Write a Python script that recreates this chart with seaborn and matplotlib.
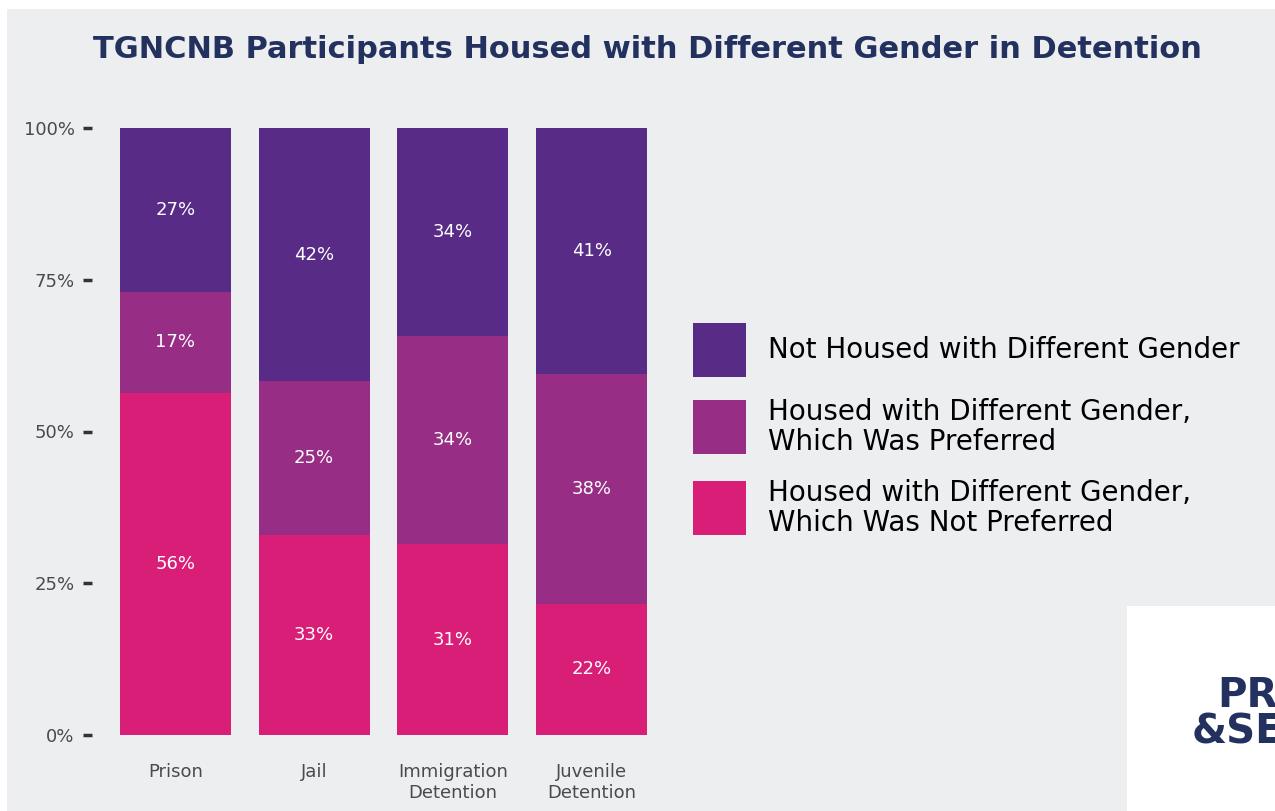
import pandas as pd
import seaborn as sns
import matplotlib.pyplot as plt
from matplotlib.patches import Rectangle

# 資料
facilities = ['Prison', 'Jail', 'Immigration\nDetention', 'Juvenile\nDetention']
not_preferred = [56.4, 32.9, 31.4, 21.6]
preferred = [16.6, 25.4, 34.3, 37.8]
not_housed = [27.0, 41.7, 34.3, 40.6]

series_names = ['Not Housed with Different Gender',
                'Housed with Different Gender,\nWhich Was Preferred',
                'Housed with Different Gender,\nWhich Was Not Preferred']
colors = ['#582C86', '#972D84', '#D91E77']
bg = '#EDEEF0'
W, H = 1275, 811

df = pd.DataFrame({'facility': facilities, 'not_preferred': not_preferred,
                   'preferred': preferred, 'not_housed': not_housed})
df['base2'] = df['not_preferred']
df['base3'] = df['not_preferred'] + df['preferred']

sns.set_theme(style='white')
plt.rcParams['font.family'] = ['DejaVu Sans']

fig = plt.figure(figsize=(W / 100, H / 100), dpi=100)
fig.patch.set_facecolor('white')
# 灰色背景
fig.patches.append(Rectangle((7 / W, 0), 1, 1 - 9 / H, transform=fig.transFigure,
                             facecolor=bg, edgecolor='none', zorder=-10))
ax = fig.add_axes([106 / W, 1 - 735 / H, 555 / W, 607 / H])
ax.set_facecolor(bg)

# 堆疊長條
bar_kw = dict(width=0.8, saturation=1, linewidth=0, ax=ax)
sns.barplot(data=df, x='facility', y='not_preferred', color=colors[2], **bar_kw)
sns.barplot(data=df, x='facility', y='preferred', bottom=df['base2'],
            color=colors[1], **bar_kw)
sns.barplot(data=df, x='facility', y='not_housed', bottom=df['base3'],
            color=colors[0], **bar_kw)

# 數值標籤
for i, row in df.iterrows():
    for val, base in [(row['not_preferred'], 0), (row['preferred'], row['base2']),
                      (row['not_housed'], row['base3'])]:
        ax.text(i, base + val / 2, f'{val:.0f}%', ha='center', va='center',
                color='white', fontsize=13)

ax.set_ylim(0, 100)
ax.set_xlim(-0.5, 3.5)
ax.set_yticks([0, 25, 50, 75, 100])
ax.set_yticklabels(['0%', '25%', '50%', '75%', '100%'])
ax.set_xlabel('')
ax.set_ylabel('')
for s in ax.spines.values():
    s.set_visible(False)
ax.spines['left'].set_position(('outward', 10))
ax.tick_params(axis='y', left=True, length=6.5, width=2.5, color='#333333',
               pad=6, labelsize=13, labelcolor='#4a4a4a')
ax.tick_params(axis='x', bottom=False, pad=14, labelsize=13, labelcolor='#4a4a4a')

# 圖例 (手動繪製)
legend_tops = [323, 400, 481]
for c, name, top in zip(colors, series_names, legend_tops):
    fig.patches.append(Rectangle((693 / W, 1 - (top + 54) / H), 53 / W, 54 / H,
                                 transform=fig.transFigure, facecolor=c,
                                 edgecolor='none'))
    fig.text(768 / W, 1 - (top + 27) / H, name, ha='left', va='center',
             fontsize=20, color='black', linespacing=1.05)

fig.text(647 / W, 1 - 50 / H,
         'TGNCNB Participants Housed with Different Gender in Detention',
         ha='center', va='center', fontsize=22, fontweight='heavy', color='#23315F')

# 右下角標誌
fig.patches.append(Rectangle((1127 / W, 0), 1, 1 - 606 / H, transform=fig.transFigure,
                             facecolor='white', edgecolor='none', zorder=-5))
fig.text(1217 / W, 1 - 707 / H, 'PRO', ha='left', va='baseline',
         fontsize=29, fontweight='bold', color='#23315F')
fig.text(1192 / W, 1 - 744 / H, '&SE', ha='left', va='baseline',
         fontsize=29, fontweight='bold', color='#23315F')

fig.savefig('out.png', dpi=100, facecolor='white')
